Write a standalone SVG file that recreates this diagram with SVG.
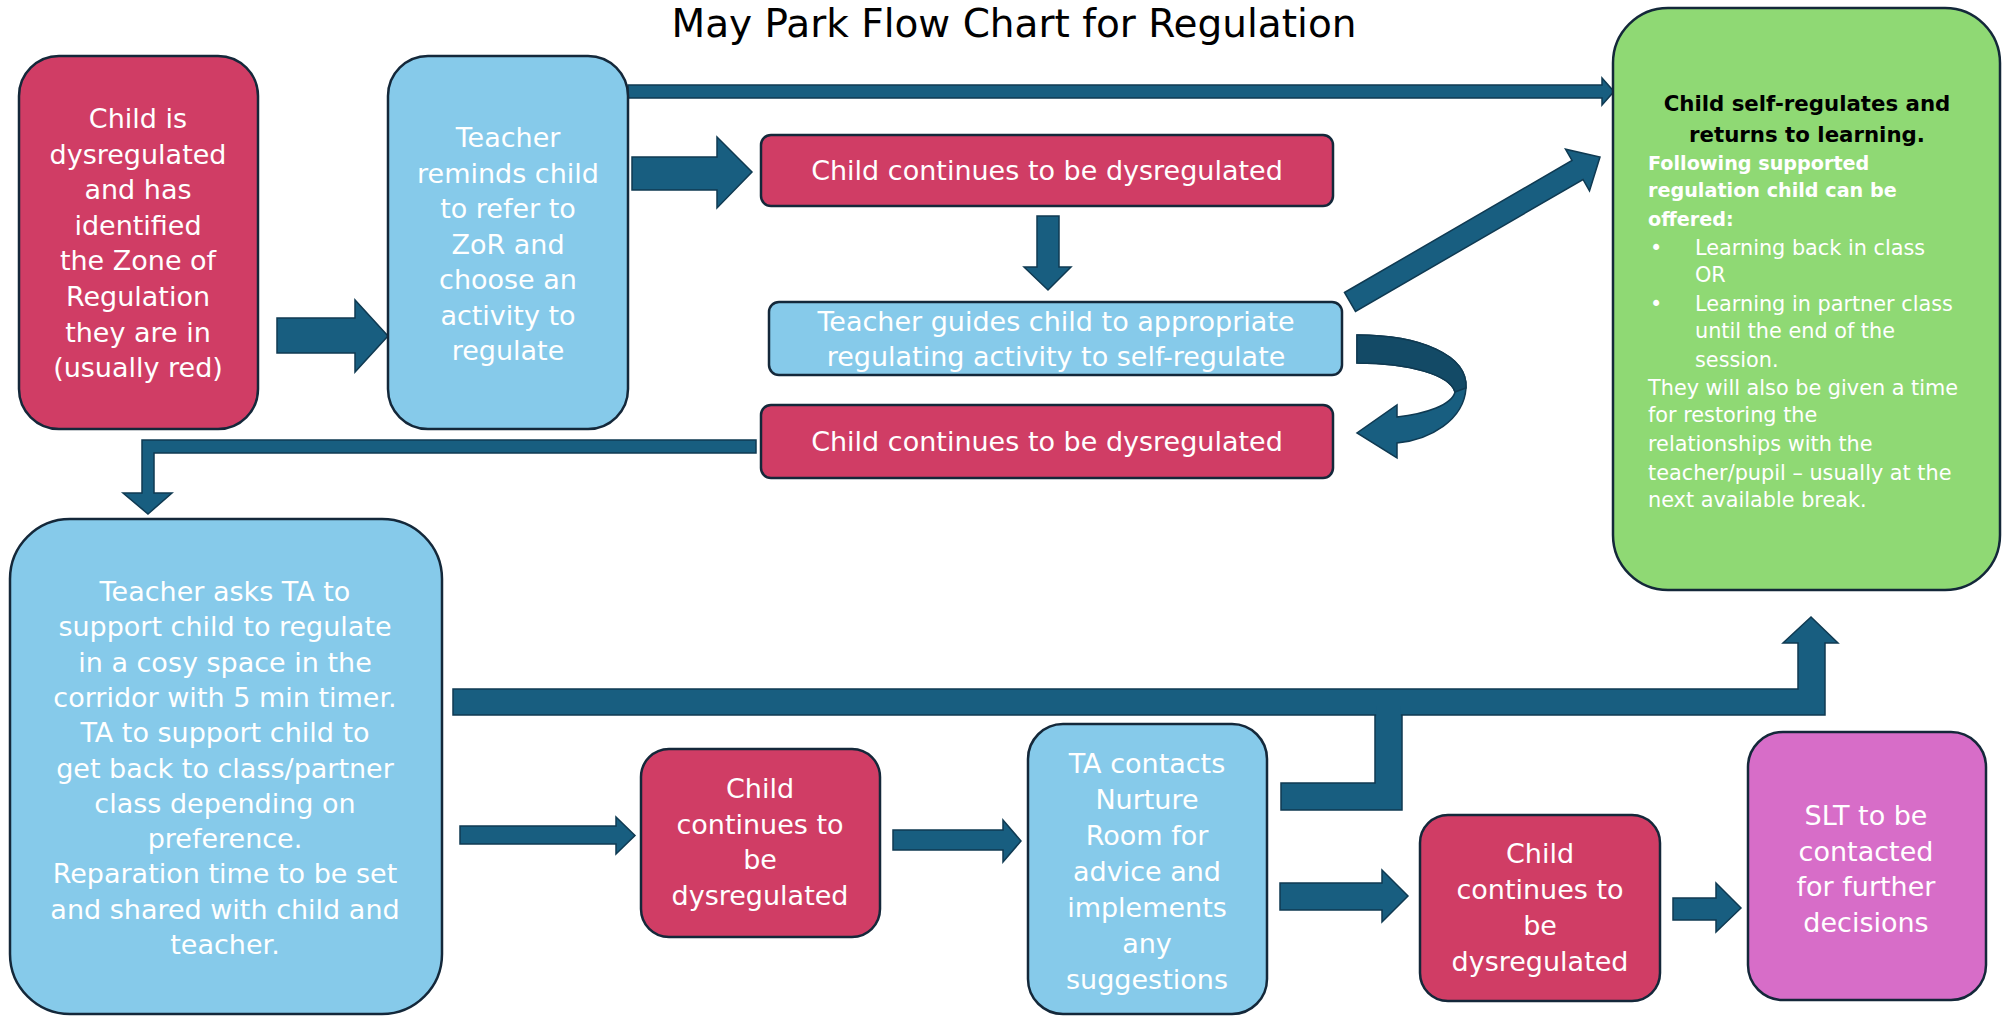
<svg xmlns="http://www.w3.org/2000/svg" width="2010" height="1017" viewBox="0 0 2010 1017">
<style>
.box{stroke:#14283a;stroke-width:2.5}
.red{fill:#D03D65}
.blue{fill:#86CAEA}
.green{fill:#8FD974}
.pink{fill:#D76DC8}
.arr{fill:#185E80;stroke:#0f3a52;stroke-width:1.5;stroke-linejoin:miter}
.t{font-family:"DejaVu Sans",sans-serif;font-size:27px;fill:#ffffff;text-anchor:middle}
.g{font-family:"DejaVu Sans",sans-serif;font-size:20.8px;fill:#ffffff}
.gb{font-family:"DejaVu Sans",sans-serif;font-size:19.2px;font-weight:bold;fill:#ffffff}
.gh{font-family:"DejaVu Sans",sans-serif;font-size:21.3px;font-weight:bold;fill:#000000;text-anchor:middle}
.title{font-family:"DejaVu Sans",sans-serif;font-size:39px;fill:#000000;text-anchor:middle}
</style>
<rect x="0" y="0" width="2010" height="1017" fill="#ffffff"/>
<text class="title" x="1014" y="37">May Park Flow Chart for Regulation</text>

<g id="connectors">
  <polygon class="arr" points="277,318 355,318 355,300 388,336 355,372 355,353 277,353"/>
  <polygon class="arr" points="628,85 1602,85 1602,78 1614,91.5 1602,105 1602,98 628,98"/>
  <polygon class="arr" points="632,157 717,157 717,137 752,172 717,208 717,190 632,190"/>
  <polygon class="arr" points="1037,216 1059,216 1059,267 1071,267 1048,290 1024,267 1037,267"/>
  <polygon class="arr" points="1344.5,292.5 1572,160.5 1565.5,149.2 1600,157 1589.5,190.8 1583,179.5 1355.5,311.5"/>
  <path class="arr" d="M1357,335 C1420,335 1468,355 1466,388 C1464,420 1430,440 1397,443 L1397,458 L1357,433 L1397,405 L1397,417 C1425,414 1452,405 1455,392 C1450,375 1410,363 1357,363 Z"/>
  <path d="M1357,335 C1420,335 1468,355 1466,388 L1455,392 C1450,375 1410,363 1357,363 Z" fill="#134A66" stroke="#0f3a52" stroke-width="1.5"/>
  <polygon class="arr" points="756,440 142,440 142,493 123,493 148,514 172,493 154,493 154,453 756,453"/>
  <polygon class="arr" points="1281,783 1375,783 1375,705 1402,705 1402,810 1281,810"/>
  <polygon class="arr" points="453,689 1798,689 1798,643 1783,643 1811,617 1838,643 1825,643 1825,715 453,715"/>
  <rect x="1376.2" y="706" width="24.6" height="14" fill="#185E80"/>
  <polygon class="arr" points="460,826 616,826 616,817 635,835.5 616,854 616,844 460,844"/>
  <polygon class="arr" points="893,830 1003,830 1003,820 1021,841 1003,862 1003,850 893,850"/>
  <polygon class="arr" points="1280,883 1382,883 1382,870 1408,896 1382,922 1382,910 1280,910"/>
  <polygon class="arr" points="1673,898 1716,898 1716,883 1741,908 1716,932 1716,920 1673,920"/>
</g>

<g id="n1">
  <rect class="box red" x="19" y="56" width="239" height="373" rx="40"/>
  <text class="t" x="138"><tspan x="138" y="128">Child is</tspan><tspan x="138" y="163.6">dysregulated</tspan><tspan x="138" y="199.2">and has</tspan><tspan x="138" y="234.8">identified</tspan><tspan x="138" y="270.4">the Zone of</tspan><tspan x="138" y="306">Regulation</tspan><tspan x="138" y="341.6">they are in</tspan><tspan x="138" y="377.2">(usually red)</tspan></text>
</g>

<g id="n2">
  <rect class="box blue" x="388" y="56" width="240" height="373" rx="40"/>
  <text class="t" x="508"><tspan x="508" y="147">Teacher</tspan><tspan x="508" y="182.5">reminds child</tspan><tspan x="508" y="218">to refer to</tspan><tspan x="508" y="253.5">ZoR and</tspan><tspan x="508" y="289">choose an</tspan><tspan x="508" y="324.5">activity to</tspan><tspan x="508" y="360">regulate</tspan></text>
</g>

<g id="n3">
  <rect class="box red" x="761" y="135" width="572" height="71" rx="10"/>
  <text class="t" x="1047" y="180">Child continues to be dysregulated</text>
</g>

<g id="n4">
  <rect class="box blue" x="769" y="302" width="573" height="73" rx="10"/>
  <text class="t" x="1056"><tspan x="1056" y="331">Teacher guides child to appropriate</tspan><tspan x="1056" y="366">regulating activity to self-regulate</tspan></text>
</g>

<g id="n5">
  <rect class="box red" x="761" y="405" width="572" height="73" rx="10"/>
  <text class="t" x="1047" y="451">Child continues to be dysregulated</text>
</g>

<g id="n6">
  <rect class="box green" x="1613" y="8" width="387" height="582" rx="55"/>
  <text class="gh" x="1807"><tspan x="1807" y="111">Child self-regulates and</tspan><tspan x="1807" y="142">returns to learning.</tspan></text>
  <text class="gb"><tspan x="1648" y="170">Following supported</tspan><tspan x="1648" y="197">regulation child can be</tspan><tspan x="1648" y="226">offered:</tspan></text>
  <text class="g"><tspan x="1650" y="255">•</tspan><tspan x="1695" y="255">Learning back in class</tspan><tspan x="1695" y="282">OR</tspan><tspan x="1650" y="311">•</tspan><tspan x="1695" y="311">Learning in partner class</tspan><tspan x="1695" y="338">until the end of the</tspan><tspan x="1695" y="367">session.</tspan><tspan x="1648" y="395">They will also be given a time</tspan><tspan x="1648" y="422">for restoring the</tspan><tspan x="1648" y="451">relationships with the</tspan><tspan x="1648" y="480">teacher/pupil – usually at the</tspan><tspan x="1648" y="507">next available break.</tspan></text>
</g>

<g id="n7">
  <rect class="box blue" x="10" y="519" width="432" height="495" rx="60"/>
  <text class="t" x="225"><tspan x="225" y="601">Teacher asks TA to</tspan><tspan x="225" y="636.3">support child to regulate</tspan><tspan x="225" y="671.6">in a cosy space in the</tspan><tspan x="225" y="706.9">corridor with 5 min timer.</tspan><tspan x="225" y="742.2">TA to support child to</tspan><tspan x="225" y="777.5">get back to class/partner</tspan><tspan x="225" y="812.8">class depending on</tspan><tspan x="225" y="848.1">preference.</tspan><tspan x="225" y="883.4">Reparation time to be set</tspan><tspan x="225" y="918.7">and shared with child and</tspan><tspan x="225" y="954">teacher.</tspan></text>
</g>

<g id="n8">
  <rect class="box red" x="641" y="749" width="239" height="188" rx="28"/>
  <text class="t" x="760"><tspan x="760" y="798">Child</tspan><tspan x="760" y="834">continues to</tspan><tspan x="760" y="869">be</tspan><tspan x="760" y="905">dysregulated</tspan></text>
</g>

<g id="n9">
  <rect class="box blue" x="1028" y="724" width="239" height="290" rx="35"/>
  <text class="t" x="1147"><tspan x="1147" y="773">TA contacts</tspan><tspan x="1147" y="809">Nurture</tspan><tspan x="1147" y="845">Room for</tspan><tspan x="1147" y="881">advice and</tspan><tspan x="1147" y="917">implements</tspan><tspan x="1147" y="953">any</tspan><tspan x="1147" y="989">suggestions</tspan></text>
</g>

<g id="n10">
  <rect class="box red" x="1420" y="815" width="240" height="186" rx="28"/>
  <text class="t" x="1540"><tspan x="1540" y="863">Child</tspan><tspan x="1540" y="899">continues to</tspan><tspan x="1540" y="935">be</tspan><tspan x="1540" y="971">dysregulated</tspan></text>
</g>

<g id="n11">
  <rect class="box pink" x="1748" y="732" width="238" height="268" rx="35"/>
  <text class="t" x="1866"><tspan x="1866" y="825">SLT to be</tspan><tspan x="1866" y="860.5">contacted</tspan><tspan x="1866" y="896">for further</tspan><tspan x="1866" y="931.5">decisions</tspan></text>
</g>
</svg>
